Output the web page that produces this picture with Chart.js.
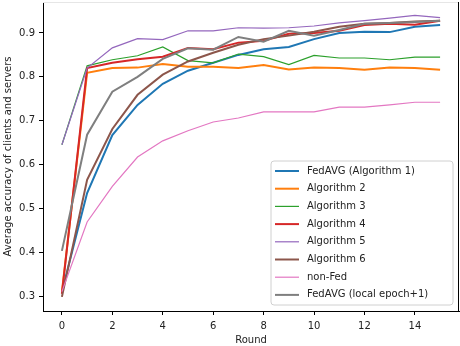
<!DOCTYPE html>
<html>
<head>
<meta charset="utf-8">
<style>
  html, body { margin: 0; padding: 0; background: #fff; }
  #wrap { width: 460px; height: 346px; }
</style>
<script src="https://cdn.jsdelivr.net/npm/chart.js@4/dist/chart.umd.min.js"></script>
</head>
<body>
<div id="wrap"><canvas id="accChart" width="460" height="346"></canvas></div>
<script>
// rounds on the x axis
const rounds = [0, 1, 2, 3, 4, 5, 6, 7, 8, 9, 10, 11, 12, 13, 14, 15];

// accuracy per round
const fedAvg  = [0.310, 0.535, 0.667, 0.736, 0.784, 0.814, 0.832, 0.850, 0.863, 0.868, 0.886, 0.900, 0.903, 0.902, 0.914, 0.918];
const alg2    = [0.310, 0.809, 0.820, 0.821, 0.829, 0.823, 0.823, 0.820, 0.827, 0.817, 0.821, 0.820, 0.816, 0.821, 0.820, 0.816];
const alg3    = [0.645, 0.825, 0.839, 0.848, 0.868, 0.837, 0.832, 0.852, 0.846, 0.828, 0.849, 0.843, 0.843, 0.839, 0.845, 0.845];
const alg4    = [0.305, 0.820, 0.832, 0.840, 0.846, 0.866, 0.863, 0.878, 0.882, 0.898, 0.900, 0.905, 0.918, 0.921, 0.919, 0.928];
const alg5    = [0.645, 0.820, 0.866, 0.887, 0.885, 0.905, 0.905, 0.912, 0.911, 0.912, 0.916, 0.923, 0.928, 0.934, 0.940, 0.935];
const alg6    = [0.298, 0.565, 0.681, 0.759, 0.805, 0.835, 0.855, 0.873, 0.886, 0.894, 0.903, 0.914, 0.921, 0.923, 0.926, 0.928];
const nonFed  = [0.310, 0.469, 0.550, 0.617, 0.654, 0.677, 0.697, 0.706, 0.720, 0.720, 0.720, 0.731, 0.731, 0.736, 0.742, 0.742];
const fedAvgE = [0.403, 0.668, 0.766, 0.800, 0.841, 0.865, 0.862, 0.891, 0.880, 0.905, 0.894, 0.907, 0.921, 0.923, 0.925, 0.928];

const seriesNames = ['FedAVG (Algorithm 1)', 'Algorithm 2', 'Algorithm 3', 'Algorithm 4',
                     'Algorithm 5', 'Algorithm 6', 'non-Fed', 'FedAVG (local epoch+1)'];
const seriesValues = [fedAvg, alg2, alg3, alg4, alg5, alg6, nonFed, fedAvgE];
const seriesColors = ['#1f77b4', '#ff7f0e', '#2ca02c', '#d62728', '#9467bd', '#8c564b', '#e377c2', '#7f7f7f'];
const seriesWidths = [2, 2, 1.2, 2, 1.2, 2, 1.2, 2];

const xTicks = [0, 2, 4, 6, 8, 10, 12, 14];
const yTicks = [0.3, 0.4, 0.5, 0.6, 0.7, 0.8, 0.9];

const FONT = 'DejaVu Sans';

// legend drawn inside the plot area, lower right (like matplotlib's)
const insideLegend = {
  id: 'insideLegend',
  afterDraw(chart) {
    const ctx = chart.ctx;
    const area = chart.chartArea;
    const sets = chart.data.datasets;
    const rowH = 17.7;
    const boxW = 182, boxH = 144;
    const bx = area.right - 6 - boxW;
    const by = area.bottom - 6 - boxH;
    ctx.save();
    ctx.beginPath();
    ctx.roundRect(bx, by, boxW, boxH, 3);
    ctx.fillStyle = 'rgba(255,255,255,0.8)';
    ctx.fill();
    ctx.strokeStyle = '#d0d0d0';
    ctx.lineWidth = 1;
    ctx.stroke();
    ctx.font = '10px "' + FONT + '"';
    ctx.textBaseline = 'middle';
    ctx.fillStyle = '#222';
    sets.forEach((ds, i) => {
      const cy = by + 10 + i * rowH;
      ctx.beginPath();
      ctx.moveTo(bx + 4, cy);
      ctx.lineTo(bx + 28, cy);
      ctx.strokeStyle = ds.borderColor;
      ctx.lineWidth = ds.borderWidth;
      ctx.stroke();
      ctx.fillText(ds.label, bx + 36, cy);
    });
    ctx.restore();
  }
};

// light top edge, dark right edge of the axes box
const frame = {
  id: 'frame',
  afterDraw(chart) {
    const ctx = chart.ctx;
    const a = chart.chartArea;
    ctx.save();
    ctx.lineWidth = 1;
    ctx.strokeStyle = '#e6e6e6';
    ctx.beginPath();
    ctx.moveTo(a.left, a.top + 0.5);
    ctx.lineTo(a.right, a.top + 0.5);
    ctx.stroke();
    ctx.strokeStyle = '#000';
    ctx.beginPath();
    ctx.moveTo(a.right - 0.5, a.top);
    ctx.lineTo(a.right - 0.5, a.bottom);
    ctx.stroke();
    ctx.restore();
  }
};

const datasets = seriesNames.map((name, i) => ({
  label: name,
  data: rounds.map((r, k) => ({ x: r, y: seriesValues[i][k] })),
  borderColor: seriesColors[i],
  backgroundColor: seriesColors[i],
  borderWidth: seriesWidths[i],
  pointRadius: 0,
  tension: 0,
  fill: false,
  order: seriesNames.length - i
}));

const config = {
  type: 'line',
  data: { datasets },
  options: {
    responsive: false,
    animation: false,
    layout: { padding: { top: 2, right: 1, left: 0, bottom: 0 } },
    plugins: {
      legend: { display: false },
      tooltip: { enabled: false }
    },
    scales: {
      x: {
        type: 'linear',
        min: -0.75,
        max: 15.75,
        afterBuildTicks: (scale) => { scale.ticks = xTicks.map(v => ({ value: v })); },
        afterFit: (scale) => {
          scale.height = 35;
          scale.paddingLeft = 0;
          scale.paddingRight = 0;
        },
        grid: { drawOnChartArea: false, tickLength: 4, tickColor: '#000', tickWidth: 1 },
        border: { display: true, color: '#000', width: 1 },
        ticks: { padding: 5, color: '#222', font: { family: FONT, size: 10 }, maxRotation: 0 },
        title: { display: true, text: 'Round', color: '#222', font: { family: FONT, size: 10 },
                 padding: { top: 0, bottom: 0 } }
      },
      y: {
        type: 'linear',
        min: 0.2658,
        max: 0.9707,
        afterBuildTicks: (scale) => { scale.ticks = yTicks.map(v => ({ value: v })); },
        afterFit: (scale) => {
          scale.width = 43;
          scale.paddingTop = 0;
          scale.paddingBottom = 0;
        },
        grid: { drawOnChartArea: false, tickLength: 4, tickColor: '#000', tickWidth: 1 },
        border: { display: true, color: '#000', width: 1 },
        ticks: { padding: 4, color: '#222', font: { family: FONT, size: 10 },
                 callback: (v) => v.toFixed(1) },
        title: { display: true, text: 'Average accuracy of clients and servers', color: '#222',
                 font: { family: FONT, size: 10 }, padding: { top: 2, bottom: 0 } }
      }
    }
  },
  plugins: [insideLegend, frame]
};

const accChart = new Chart(document.getElementById('accChart'), config);
</script>
</body>
</html>
